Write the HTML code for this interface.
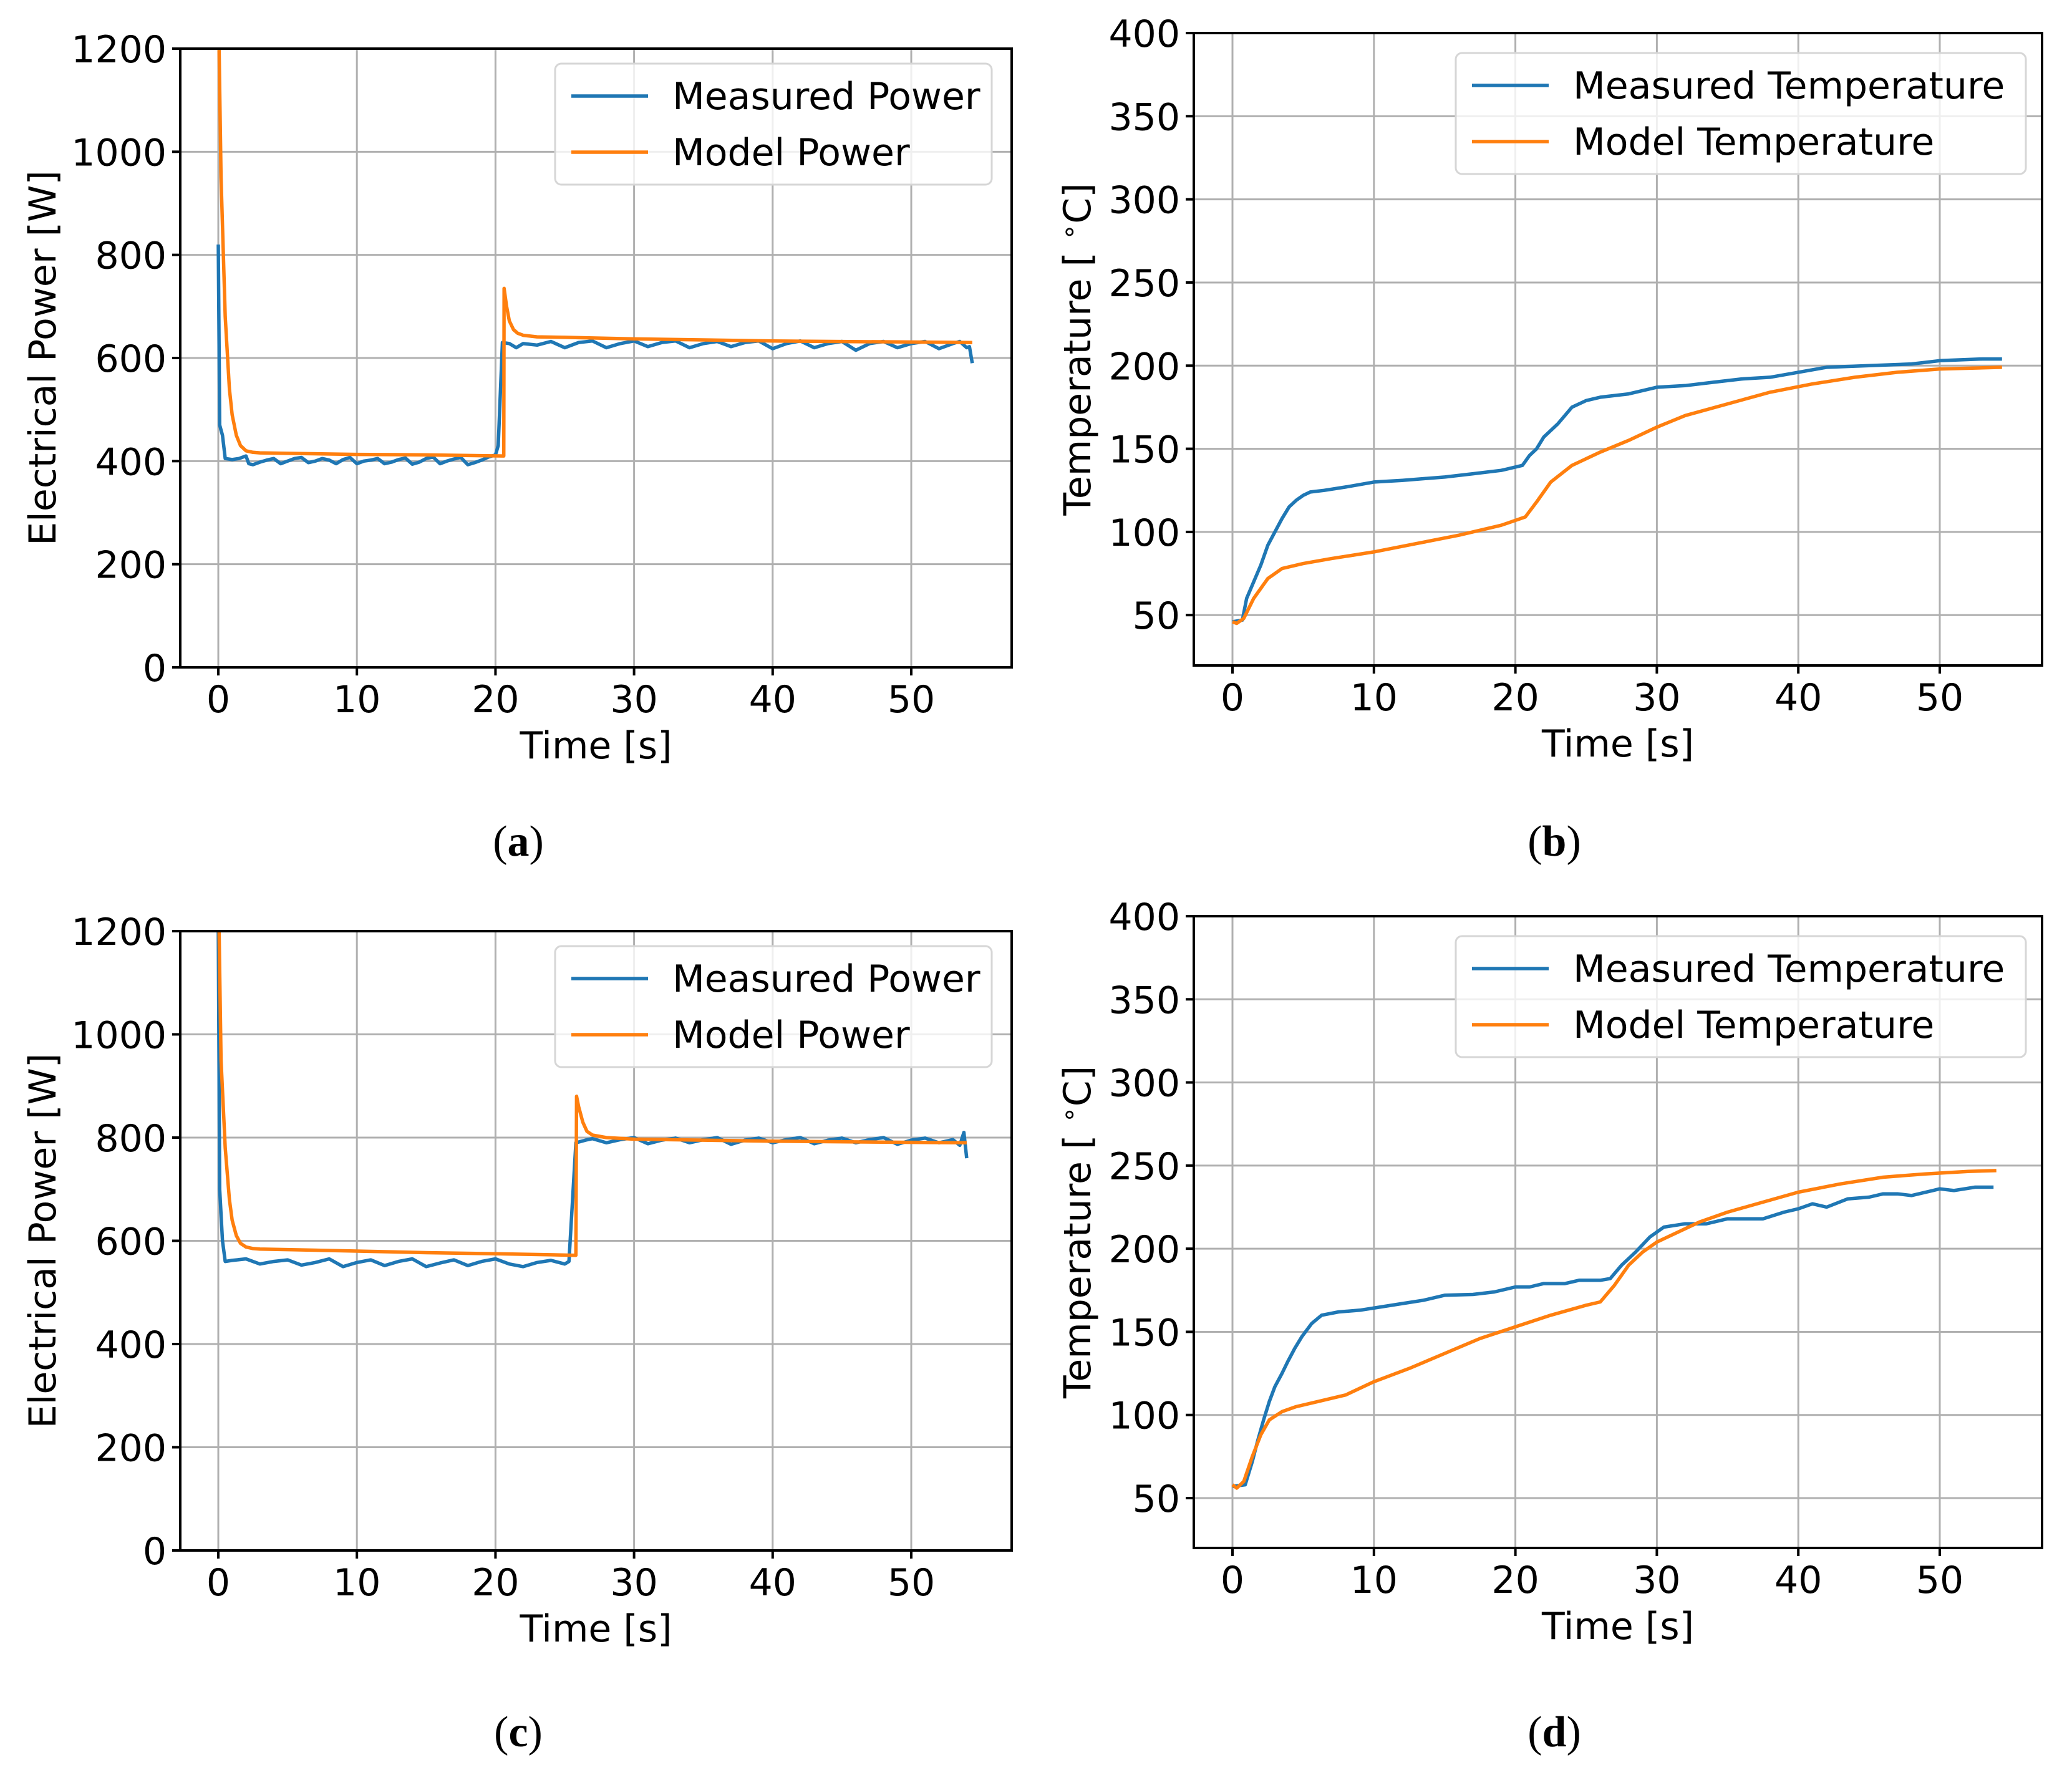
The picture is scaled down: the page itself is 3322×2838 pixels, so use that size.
<!DOCTYPE html>
<html><head><meta charset="utf-8">
<style>
html,body{margin:0;padding:0;background:#fff;}
svg{display:block;}
text{font-family:"DejaVu Sans","Liberation Sans",sans-serif;fill:#000;}
.sub{font-family:"Liberation Serif",serif;font-size:70px;}
</style></head>
<body>
<svg id="fig" width="3322" height="2838" viewBox="0 0 3322 2838" xmlns="http://www.w3.org/2000/svg"></svg>
<script>
// ---------- DATA ----------
// Panel (a)
const aMeasT=[0,0.1,0.3,0.5,1,1.5,2,2.2,2.5,3,3.5,4,4.5,5,5.5,6,6.5,7,7.5,8,8.5,9,9.5,10,10.5,11,11.5,12,12.5,13,13.5,14,14.5,15,15.5,16,16.5,17,17.5,18,18.5,19,19.5,20,20.2,20.5,21,21.5,22,23,24,25,26,27,28,29,30,31,32,33,34,35,36,37,38,39,40,41,42,43,44,45,46,47,48,49,50,51,52,53,53.5,54,54.2,54.4];
const aMeasV=[820,470,450,405,403,405,410,395,393,398,402,405,395,400,405,407,397,400,405,402,395,403,407,395,400,402,405,395,398,403,406,394,398,405,408,395,400,404,407,393,397,402,408,412,430,630,628,620,628,625,632,620,630,633,620,628,633,622,630,633,620,628,632,622,630,633,618,628,633,620,628,632,615,628,632,620,628,632,618,628,632,620,622,590,640];
const aModT=[0,0.2,0.5,0.8,1,1.3,1.6,2,2.5,3,5,10,15,20.6,20.62,20.8,21,21.3,21.6,22,23,25,30,40,54.4];
const aModV=[1300,950,680,540,490,450,430,420,417,416,415,413,412,410,735,700,672,655,648,644,641,640,637,633,630];
// Panel (b)
const bMeasT=[0,0.7,1,1.5,2,2.5,3,3.5,4,4.5,5,5.5,6.5,8,10,12,15,17,19,20.5,21,21.5,22,23,24,25,26,28,30,32,34,36,38,40,42,45,48,50,53,54.4];
const bMeasV=[46,47,60,70,80,92,100,108,115,119,122,124,125,127,130,131,133,135,137,140,146,150,157,165,175,179,181,183,187,188,190,192,193,196,199,200,201,203,204,204];
const bModT=[0,0.3,0.8,1.5,2.5,3.5,5,7,10,13,16,19,20.7,21.5,22.5,24,26,28,30,32,35,38,41,44,47,50,54.4];
const bModV=[46,45,48,60,72,78,81,84,88,93,98,104,109,118,130,140,148,155,163,170,177,184,189,193,196,198,199];
// Panel (c)
const cMeasT=[0,0.1,0.3,0.5,1,2,3,4,5,6,7,8,9,10,11,12,13,14,15,16,17,18,19,20,21,22,23,24,25,25.3,25.8,26.5,27,28,29,30,31,32,33,34,35,36,37,38,39,40,41,42,43,44,45,46,47,48,49,50,51,52,53,53.5,53.8,54];
const cMeasV=[1200,700,600,560,562,565,555,560,563,553,558,565,550,558,563,552,560,565,550,557,563,552,560,565,555,550,558,562,555,560,790,795,798,790,796,800,788,795,799,790,796,800,787,795,799,790,796,800,788,795,799,790,796,800,787,795,799,790,796,785,810,760];
const cModT=[0,0.2,0.5,0.8,1,1.3,1.6,2,2.5,3,5,10,15,20,25.8,25.85,26,26.3,26.6,27,28,30,40,54];
const cModV=[1300,950,780,680,640,610,595,588,585,584,583,580,577,575,572,880,860,830,812,805,800,797,793,790];
// Panel (d)
const dMeasT=[0,0.9,1.4,1.8,2.2,2.6,3,3.5,3.9,4.4,4.9,5.6,6.3,7.5,9,10.5,12,13.5,15,17,18.5,20,21,22,23.5,24.5,26,26.7,27.5,28.5,29.5,30.5,32,33.5,35,37.5,39,40,41,42,43.5,45,46,47,48,49.5,50,51,52.5,53.8];
const dMeasV=[57,58,72,85,97,108,117,125,132,140,147,155,160,162,163,165,167,169,172,172.5,174,177,177,179,179,181,181,182,190,198,207,213,215,215,218,218,222,224,227,225,230,231,233,233,232,235,236,235,237,237];
const dModT=[0,0.3,0.8,1.4,2,2.6,3.5,4.5,6,8,10,12.5,15,17.5,20,22.5,25,26,27,28,29,30,31.5,33,35,37.5,40,43,46,49,52,54];
const dModV=[58,56,60,75,88,97,102,105,108,112,120,128,137,146,153,160,166,168,178,190,198,204,210,216,222,228,234,239,243,245,246.5,247];

const xTicks=[0,10,20,30,40,50];
const pTicks=[0,200,400,600,800,1000,1200];
const tTicks=[50,100,150,200,250,300,350,400];

// ---------- DRAW ----------
const NS='http://www.w3.org/2000/svg';
const fig=document.getElementById('fig');
function mk(tag,attrs,parent){const e=document.createElementNS(NS,tag);for(const k in attrs)e.setAttribute(k,attrs[k]);(parent||fig).appendChild(e);return e;}
const BLUE='#1f77b4',ORANGE='#ff7f0e';

function panel(cfg){
  const g=mk('g',{});
  
  
  const L=cfg.L,R=cfg.R,T=cfg.T,B=cfg.B;
  const xs=v=>cfg.x0+v*cfg.xu;
  const ys=v=>B-(v-cfg.ymin)/(cfg.ymax-cfg.ymin)*(B-T);
  xTicks.forEach(t=>{const l=mk('line',{x1:xs(t),x2:xs(t),y1:T,y2:B,stroke:'#b0b0b0','stroke-width':3},g);
    });
  cfg.yTicks.forEach(t=>{const l=mk('line',{x1:L,x2:R,y1:ys(t),y2:ys(t),stroke:'#b0b0b0','stroke-width':3},g);
    });
  const cid='clip-'+cfg.name;
  const cp=mk('clipPath',{id:cid},g);mk('rect',{x:L,y:T,width:R-L,height:B-T},cp);
  function series(T_,V_,col,nm){
    const d=T_.map((t,i)=>(i?'L':'M')+xs(t).toFixed(1)+' '+ys(V_[i]).toFixed(1)).join(' ');
    const p=mk('path',{d:d,fill:'none',stroke:col,'stroke-width':5.5,'stroke-linejoin':'round','clip-path':'url(#'+cid+')'},g);
    
  }
  series(cfg.mT,cfg.mV,BLUE,'measured-line');
  series(cfg.oT,cfg.oV,ORANGE,'model-line');
  const fr=mk('rect',{x:L,y:T,width:R-L,height:B-T,fill:'none',stroke:'#000','stroke-width':4},g);
  
  xTicks.forEach(t=>{mk('line',{x1:xs(t),x2:xs(t),y1:B,y2:B+13,stroke:'#000','stroke-width':4},g);
    const tx=mk('text',{x:xs(t),y:B+72,'font-size':60,'text-anchor':'middle'},g);tx.textContent=t;
    });
  cfg.yTicks.forEach(t=>{mk('line',{x1:L-13,x2:L,y1:ys(t),y2:ys(t),stroke:'#000','stroke-width':4},g);
    const tx=mk('text',{x:L-22,y:ys(t)+22,'font-size':60,'text-anchor':'end'},g);tx.textContent=t;
    });
  const xl=mk('text',{x:(L+R)/2,y:B+146,'font-size':60,'text-anchor':'middle'},g);xl.textContent='Time [s]';
  
  const yc=(T+B)/2;
  const yl=mk('text',{x:cfg.ylx,y:yc,'font-size':60,'text-anchor':'middle',transform:'rotate(-90 '+cfg.ylx+' '+yc+')'},g);
  yl.innerHTML=cfg.ylabel;
  
  const lg=mk('g',{},g);
  mk('rect',{x:cfg.lgx,y:cfg.lgy,width:cfg.lgw,height:194,rx:10,fill:'#fff','fill-opacity':0.8,stroke:'#d6d6d6','stroke-width':3},lg);
  [[BLUE,cfg.l1],[ORANGE,cfg.l2]].forEach((e,i)=>{
    const yy=cfg.lgy+52+i*90;
    const en=mk('g',{},lg);
    mk('line',{x1:cfg.lgx+26,x2:cfg.lgx+149,y1:yy,y2:yy,stroke:e[0],'stroke-width':5.5},en);
    const t=mk('text',{x:cfg.lgx+188,y:yy+21,'font-size':60},en);t.textContent=e[1];
  });
  const s=mk('text',{x:cfg.subx,y:cfg.suby,'text-anchor':'middle',class:'sub'},g);
  s.innerHTML='(<tspan font-weight="bold">'+cfg.sub+'</tspan>)';
  
}

const TL='Temperature [ <tspan font-size="42" dy="-20">∘</tspan><tspan dy="20">C]</tspan>';
panel({name:'panel-a',L:289,R:1622,T:78,B:1070,x0:350,xu:22.22,ymin:0,ymax:1200,yTicks:pTicks,
  mT:aMeasT,mV:aMeasV,oT:aModT,oV:aModV,ylx:89,ylabel:'Electrical Power [W]',
  lgx:890,lgy:102,lgw:700,l1:'Measured Power',l2:'Model Power',sub:'a',subx:831,suby:1372});
panel({name:'panel-b',L:1914,R:3274,T:53,B:1067,x0:1976,xu:22.68,ymin:19.7,ymax:400,yTicks:tTicks,
  mT:bMeasT,mV:bMeasV,oT:bModT,oV:bModV,ylx:1748,ylabel:TL,
  lgx:2334,lgy:85,lgw:914,l1:'Measured Temperature',l2:'Model Temperature',sub:'b',subx:2492,suby:1372});
panel({name:'panel-c',L:289,R:1622,T:1493,B:2486,x0:350,xu:22.22,ymin:0,ymax:1200,yTicks:pTicks,
  mT:cMeasT,mV:cMeasV,oT:cModT,oV:cModV,ylx:89,ylabel:'Electrical Power [W]',
  lgx:890,lgy:1517,lgw:700,l1:'Measured Power',l2:'Model Power',sub:'c',subx:831,suby:2800});
panel({name:'panel-d',L:1914,R:3274,T:1469,B:2482,x0:1976,xu:22.68,ymin:20,ymax:400,yTicks:tTicks,
  mT:dMeasT,mV:dMeasV,oT:dModT,oV:dModV,ylx:1748,ylabel:TL,
  lgx:2334,lgy:1501,lgw:914,l1:'Measured Temperature',l2:'Model Temperature',sub:'d',subx:2492,suby:2800});
</script>
</body></html>
